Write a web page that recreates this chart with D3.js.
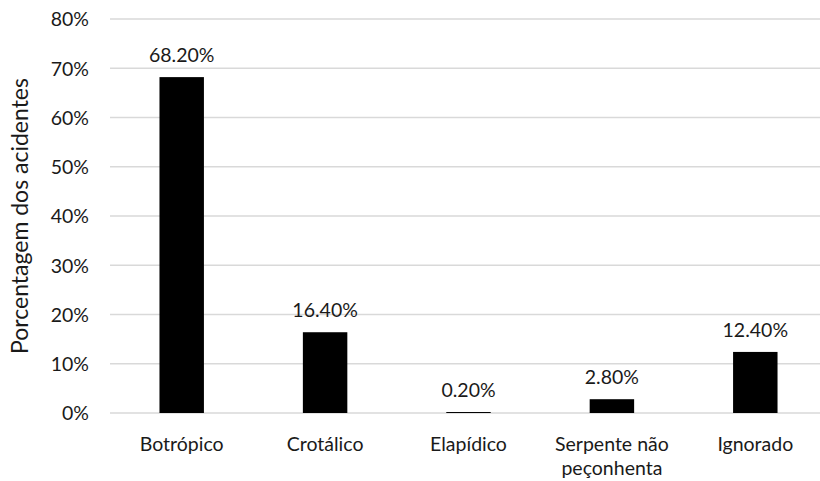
<!DOCTYPE html>
<html>
<head>
<meta charset="utf-8">
<script src="https://cdn.jsdelivr.net/npm/d3@7"></script>
<style>
  html, body { margin: 0; padding: 0; background: #fff; }
  svg { display: block; font-family: "Lato", "Open Sans", sans-serif; }
</style>
</head>
<body>
<svg id="chart" width="820" height="481"></svg>
<script>
// Snakebite accident types and their share of all accidents (%)
const categories = ["Botrópico", "Crotálico", "Elapídico", "Serpente não peçonhenta", "Ignorado"];
const categoryLines = [["Botrópico"], ["Crotálico"], ["Elapídico"], ["Serpente não", "peçonhenta"], ["Ignorado"]];
const percentages = [68.2, 16.4, 0.2, 2.8, 12.4];
const yTicks = [0, 10, 20, 30, 40, 50, 60, 70, 80];
const yTitle = "Porcentagem dos acidentes";

const svg = d3.select("#chart");
const plot = { left: 110, right: 827, top: 19, bottom: 413 };
const labelSize = 19.5;
const textColor = "#1a1a1a";

const x = d3.scaleBand()
  .domain(categories)
  .range([plot.left, plot.right])
  .paddingInner(0.69)
  .paddingOuter(0.345);

const y = d3.scaleLinear()
  .domain([0, 80])
  .range([plot.bottom, plot.top]);

// Horizontal gridlines
svg.append("g")
  .selectAll("line")
  .data(yTicks)
  .join("line")
  .attr("x1", plot.left)
  .attr("x2", 820)
  .attr("y1", d => y(d))
  .attr("y2", d => y(d))
  .attr("stroke", "#d9d9d9")
  .attr("stroke-width", 1.5);

// Y axis tick labels
const yAxis = d3.axisLeft(y)
  .tickValues(yTicks)
  .tickFormat(d => d + "%")
  .tickSize(0)
  .tickPadding(0);

const yG = svg.append("g")
  .attr("transform", `translate(89,0)`)
  .call(yAxis);
yG.select(".domain").remove();
yG.selectAll("text")
  .attr("font-family", "Lato, 'Open Sans', sans-serif")
  .attr("font-size", labelSize)
  .attr("fill", textColor)
  .attr("dy", "0.35em");

// Bars
svg.append("g")
  .selectAll("rect")
  .data(percentages)
  .join("rect")
  .attr("x", (d, i) => x(categories[i]))
  .attr("width", x.bandwidth())
  .attr("y", d => y(d))
  .attr("height", d => y(0) - y(d))
  .attr("fill", "#000");

// Value labels above bars
svg.append("g")
  .selectAll("text")
  .data(percentages)
  .join("text")
  .attr("x", (d, i) => x(categories[i]) + x.bandwidth() / 2)
  .attr("y", d => y(d) - 15)
  .attr("text-anchor", "middle")
  .attr("font-size", labelSize)
  .attr("fill", textColor)
  .text(d => d.toFixed(2) + "%");

// Category labels (wrapped)
const catG = svg.append("g")
  .selectAll("text")
  .data(categories)
  .join("text")
  .attr("x", d => x(d) + x.bandwidth() / 2)
  .attr("y", 451)
  .attr("text-anchor", "middle")
  .attr("font-size", labelSize)
  .attr("fill", textColor);
catG.each(function(d, i) {
  const t = d3.select(this);
  categoryLines[i].forEach((line, j) => {
    t.append("tspan")
      .attr("x", x(d) + x.bandwidth() / 2)
      .attr("dy", j === 0 ? 0 : 23.5)
      .text(line);
  });
});

// Y axis title
svg.append("text")
  .attr("transform", `translate(28,${(plot.top + plot.bottom) / 2}) rotate(-90)`)
  .attr("text-anchor", "middle")
  .attr("font-size", 23)
  .attr("fill", textColor)
  .text(yTitle);
</script>
</body>
</html>
